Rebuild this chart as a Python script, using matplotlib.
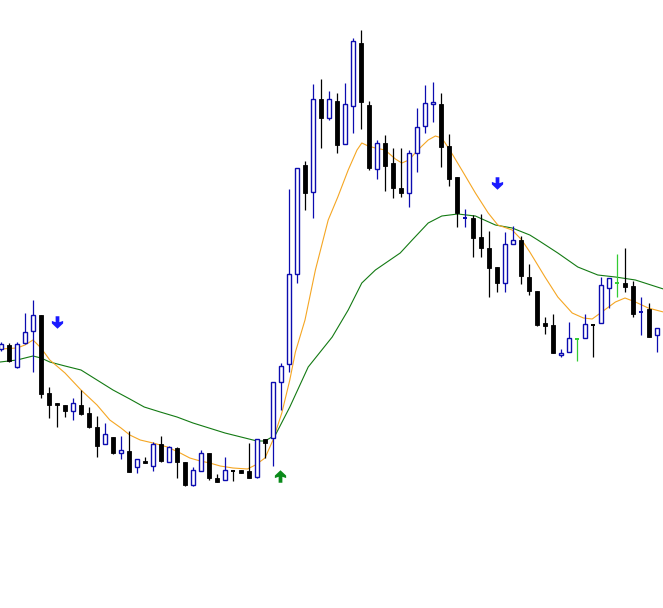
import matplotlib
matplotlib.use("Agg")
import matplotlib.pyplot as plt
from matplotlib.path import Path
import numpy as np

# ---- candle data (bar index = position in list) ----
opens = [251, 255, 233, 257, 269, 285, 207, 197, 195, 189, 195, 187, 173, 156, 163, 147, 149, 133, 139, 134,
         156, 138, 152, 138, 115, 129, 147, 122, 120, 130, 130, 129, 123, 161, 162, 218, 236, 326, 435, 408,
         501, 482, 499, 456, 494, 557, 495, 431, 457, 437, 412, 407, 447, 474, 496, 496, 454, 423, 382, 382,
         363, 352, 333, 317, 356, 360, 323, 309, 277, 275, 245, 248, 261, 262, 276, 277, 312, 317, 317, 314,
         288, 291, 265]
highs = [258, 257, 258, 287, 300, 285, 213, 197, 195, 202, 210, 193, 184, 177, 163, 164, 169, 141, 143, 158,
         164, 154, 153, 138, 133, 150, 147, 126, 143, 130, 130, 157, 161, 161, 218, 237, 411, 432, 439, 516,
         521, 509, 507, 517, 562, 570, 499, 460, 465, 452, 452, 450, 492, 515, 518, 507, 466, 423, 391, 385,
         386, 369, 333, 368, 374, 364, 336, 309, 283, 286, 251, 278, 262, 286, 276, 323, 322, 346, 352, 319,
         303, 297, 272]
lows = [249, 238, 232, 256, 228, 202, 182, 173, 183, 180, 185, 172, 143, 156, 146, 141, 128, 127, 137, 129,
        138, 138, 122, 114, 114, 129, 120, 118, 120, 119, 127, 122, 122, 142, 134, 190, 228, 317, 390, 382,
        452, 480, 447, 456, 467, 471, 430, 421, 409, 402, 403, 393, 428, 467, 478, 433, 414, 373, 373, 343,
        343, 303, 308, 308, 356, 316, 305, 274, 266, 247, 243, 248, 239, 262, 243, 277, 292, 303, 308, 283,
        265, 263, 248]
closes = [256, 239, 256, 268, 285, 206, 195, 195, 189, 197, 186, 173, 154, 166, 147, 150, 128, 141, 137, 156,
          139, 153, 138, 115, 130, 147, 122, 118, 130, 129, 127, 122, 161, 157, 218, 234, 326, 432, 407, 501,
          482, 501, 455, 496, 559, 498, 432, 457, 434, 412, 407, 447, 473, 497, 498, 453, 421, 387, 383, 362,
          352, 332, 317, 356, 360, 324, 309, 275, 274, 247, 247, 262, 261, 276, 275, 315, 322, 317, 313, 286,
          289, 263, 272]
signal_bars = [72, 77]  # green-coloured bars

# ---- moving averages (bar position, price) ----
fast_ma_x = [-0.1, 2.0, 3.0, 4.0, 5.0, 6.1, 8.0, 10.0, 12.0, 13.6, 15.0, 16.1, 17.4, 19.0, 20.8, 22.4, 23.6,
             24.9, 26.1, 27.4, 29.0, 30.8, 31.8, 33.0, 34.0, 35.1, 36.1, 36.8, 38.0, 39.3, 40.9, 42.1, 43.4,
             44.5, 45.1, 45.9, 46.8, 48.0, 49.3, 50.1, 51.0, 52.1, 53.4, 54.3, 55.1, 56.1, 57.6, 59.3, 60.9,
             62.1, 63.9, 65.1, 66.1, 68.0, 69.6, 71.4, 72.8, 73.9, 75.1, 76.8, 78.0, 79.3, 80.9, 82.8]
fast_ma_y = [251, 252, 255, 260, 252, 240, 227, 210, 195, 180, 172, 165, 160, 157, 153, 147, 142,
             139, 137, 134, 132, 131, 135, 142, 160, 187, 220, 248, 280, 330, 380, 403, 430,
             450, 457, 454, 452, 450, 441, 437, 440, 450, 460, 464, 462, 450, 430, 407, 387,
             375, 370, 360, 348, 323, 303, 287, 282, 281, 288, 298, 302, 298, 292, 288]
slow_ma_x = [-0.1, 2.0, 4.0, 5.0, 6.1, 8.0, 10.0, 12.0, 14.0, 16.1, 17.9, 19.9, 22.0, 24.0, 26.0, 28.0,
             30.0, 32.0, 33.0, 34.3, 36.1, 38.4, 41.4, 43.4, 45.1, 46.8, 49.9, 51.4, 53.4, 55.1, 57.1,
             59.3, 61.8, 63.9, 66.1, 67.1, 69.6, 72.1, 74.6, 76.8, 79.3, 82.8]
slow_ma_y = [238, 240, 244, 242, 238, 234, 230, 220, 210, 201, 193, 188, 183, 177, 172, 167,
             163, 159, 159, 165, 193, 233, 263, 290, 317, 330, 347, 360, 377, 384, 386,
             384, 375, 372, 365, 360, 347, 333, 325, 323, 320, 311]

# ---- signal arrows (bar position, price) ----
sell_x = [7.0, 62.0]
sell_y = [278, 417]
buy_x = [34.9]
buy_y = [124]

UP_COL = "#0c0cb0"
DN_COL = "#000000"
SIG_COL = "#33cc33"

fig = plt.figure(figsize=(6.63, 6.08), dpi=100)
ax = fig.add_axes([0, 0, 1, 1])
ax.set_xlim(-0.125, 82.75)
ax.set_ylim(-8, 600)
ax.axis("off")

# moving averages
ax.plot(slow_ma_x, slow_ma_y, color="#137a13", lw=0.8, zorder=1)
ax.plot(fast_ma_x, fast_ma_y, color="#f5a623", lw=0.8, zorder=1)

w = 0.6
for i, (o, h, l, c) in enumerate(zip(opens, highs, lows, closes)):
    if i in signal_bars:
        col = SIG_COL
    elif c >= o:
        col = UP_COL
    else:
        col = DN_COL
    ax.vlines(i, l, h, color=col, lw=0.9, zorder=2)
    if i in signal_bars or abs(c - o) < 1.5:
        ax.hlines((o + c) / 2, i - w / 2, i + w / 2, color=col, lw=1.4, zorder=3)
    elif c > o:
        ax.bar(i, c - o, bottom=o, width=w, facecolor="white", edgecolor=col, lw=1.0, zorder=3)
    else:
        ax.bar(i, o - c, bottom=c, width=w, facecolor=col, edgecolor=col, lw=0.6, zorder=3)

# arrow marker shapes
down_verts = [(-0.3, 1.0), (0.3, 1.0), (0.3, 0.05), (0.9, 0.25), (0.9, -0.15), (0.0, -1.0),
              (-0.9, -0.15), (-0.9, 0.25), (-0.3, 0.05), (-0.3, 1.0)]
down_path = Path(down_verts, closed=True)
up_path = Path([(x, -y) for x, y in down_verts], closed=True)
ax.plot(sell_x, sell_y, linestyle="none", marker=down_path, markersize=9,
        color="#1a1aff", markeredgewidth=0, zorder=4)
ax.plot(buy_x, buy_y, linestyle="none", marker=up_path, markersize=9,
        color="#0a8a1a", markeredgewidth=0, zorder=4)

fig.savefig("out.png", dpi=100, facecolor="white")
